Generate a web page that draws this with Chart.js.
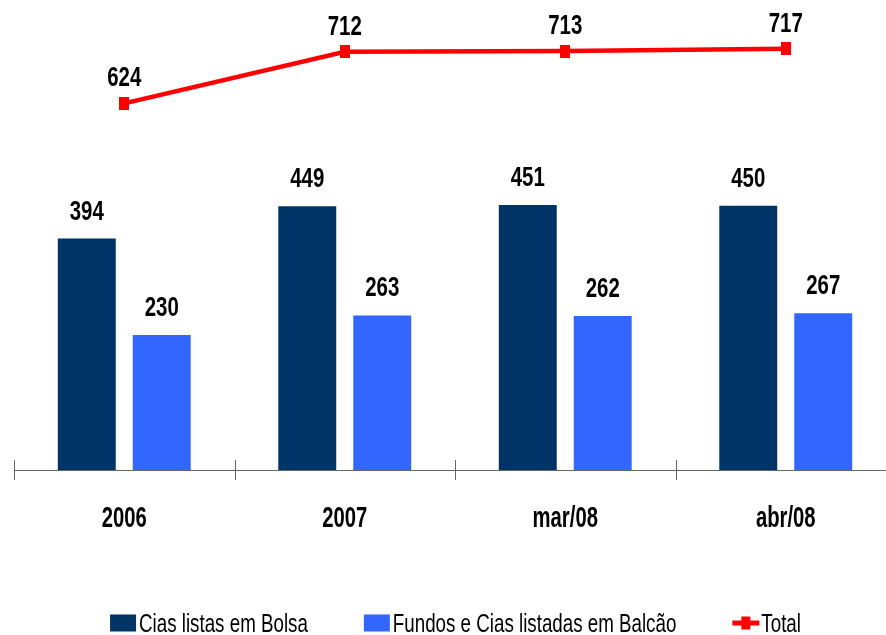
<!DOCTYPE html>
<html>
<head>
<meta charset="utf-8">
<script src="https://cdn.jsdelivr.net/npm/chart.js@4/dist/chart.umd.min.js"></script>
<style>
  html, body { margin: 0; padding: 0; background: #fff; overflow: hidden; }
</style>
</head>
<body>
<canvas id="chart" width="900" height="635"></canvas>
<script>
const categories = ['2006', '2007', 'mar/08', 'abr/08'];
const bolsa = [394, 449, 451, 450];
const balcao = [230, 263, 262, 267];
const total = [624, 712, 713, 717];
const seriesNames = ['Cias listas em Bolsa', 'Fundos e Cias listadas em Balcão', 'Total'];

const FONT = '"Liberation Sans", Arial, sans-serif';
const NAVY = '#003366';
const BLUE = '#3366FF';
const RED = '#FF0000';

// marcador da linha: retângulo um pouco mais alto que largo
const marker = document.createElement('canvas');
marker.width = 10;
marker.height = 13;
const mctx = marker.getContext('2d');
mctx.fillStyle = RED;
mctx.fillRect(0, 0, 10, 13);

// texto estreito (tipo Arial Narrow): Liberation Sans comprimida na horizontal
function narrowText(ctx, text, x, y, sx) {
    ctx.save();
    ctx.translate(x, y);
    ctx.scale(sx, 1);
    ctx.fillText(text, 0, 0);
    ctx.restore();
}

// rótulos de valor acima das barras e dos pontos
const valueLabels = {
    id: 'valueLabels',
    afterDatasetsDraw(chart) {
        const ctx = chart.ctx;
        ctx.save();
        ctx.font = 'bold 28px ' + FONT;
        ctx.fillStyle = '#000';
        ctx.textAlign = 'center';
        ctx.textBaseline = 'alphabetic';
        chart.data.datasets.forEach((ds, i) => {
            const gap = ds.type === 'line' ? 17 : 19;
            chart.getDatasetMeta(i).data.forEach((el, j) => {
                narrowText(ctx, String(ds.data[j]), el.x, el.y - gap, 0.73);
            });
        });
        ctx.restore();
    }
};

// eixo x com marcas entre as categorias e os rótulos das categorias
const axisTicks = {
    id: 'axisTicks',
    afterDraw(chart) {
        const ctx = chart.ctx;
        const x = chart.scales.x;
        const y = chart.chartArea.bottom;
        const n = chart.data.labels.length;
        const step = x.width / n;
        ctx.save();
        ctx.strokeStyle = '#666';
        ctx.lineWidth = 1;
        ctx.beginPath();
        ctx.moveTo(x.left, y + 0.5);
        ctx.lineTo(x.right, y + 0.5);
        for (let i = 0; i <= n; i++) {
            const px = Math.round(x.left + i * step) + 0.5;
            ctx.moveTo(px, y - 10);
            ctx.lineTo(px, y + 10);
        }
        ctx.stroke();
        ctx.font = 'bold 30px ' + FONT;
        ctx.fillStyle = '#000';
        ctx.textAlign = 'center';
        ctx.textBaseline = 'alphabetic';
        chart.data.labels.forEach((lab, i) => {
            narrowText(ctx, lab, x.getPixelForValue(i), y + 57, 0.675);
        });
        ctx.restore();
    }
};

// legenda numa linha só, embaixo
const bottomLegend = {
    id: 'bottomLegend',
    afterDraw(chart) {
        const ctx = chart.ctx;
        const sx = 0.75;
        ctx.save();
        ctx.font = '25px ' + FONT;
        ctx.textBaseline = 'alphabetic';
        ctx.textAlign = 'left';
        const y = 623;
        const items = chart.data.datasets.map(ds => ({ ds, w: 29 + ctx.measureText(ds.label).width * sx }));
        const width = items.reduce((s, it) => s + it.w, 0) + 56 * (items.length - 1);
        let x = 455.5 - width / 2;
        items.forEach(it => {
            if (it.ds.type === 'line') {
                ctx.strokeStyle = RED;
                ctx.lineWidth = 5;
                ctx.beginPath();
                ctx.moveTo(x, y);
                ctx.lineTo(x + 27, y);
                ctx.stroke();
                ctx.fillStyle = RED;
                ctx.fillRect(x + 9, y - 6.5, 9, 13);
            } else {
                ctx.fillStyle = it.ds.backgroundColor;
                ctx.fillRect(x, y - 8.5, 26, 17);
            }
            ctx.fillStyle = '#000';
            narrowText(ctx, it.ds.label, x + 29, y + 9, sx);
            x += it.w + 56;
        });
        ctx.restore();
    }
};

new Chart(document.getElementById('chart').getContext('2d'), {
    type: 'bar',
    data: {
        labels: categories,
        datasets: [
            {
                label: seriesNames[0],
                data: bolsa,
                backgroundColor: NAVY,
                order: 2
            },
            {
                label: seriesNames[1],
                data: balcao,
                backgroundColor: BLUE,
                order: 2
            },
            {
                type: 'line',
                label: seriesNames[2],
                data: total,
                borderColor: RED,
                backgroundColor: RED,
                borderWidth: 4.5,
                pointStyle: marker,
                pointRadius: 6,
                clip: false,
                order: 1
            }
        ]
    },
    options: {
        responsive: false,
        devicePixelRatio: 1,
        animation: false,
        layout: { autoPadding: false, padding: { left: 14, right: 4, top: 0, bottom: 165 } },
        datasets: {
            bar: { categoryPercentage: 0.68, barPercentage: 0.773 }
        },
        plugins: {
            legend: { display: false },
            tooltip: { enabled: false }
        },
        scales: {
            x: { display: false },
            y: { display: false, min: 0, max: 800 }
        }
    },
    plugins: [valueLabels, axisTicks, bottomLegend]
});
</script>
</body>
</html>
